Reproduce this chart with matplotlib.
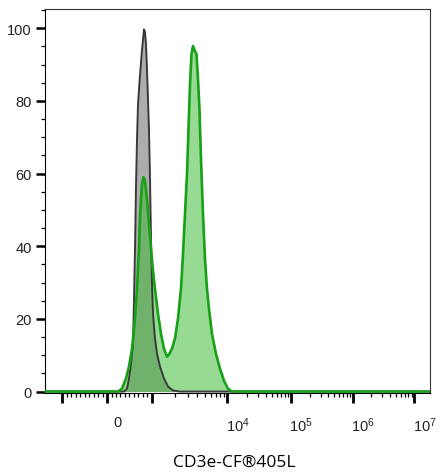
import numpy as np
import matplotlib
matplotlib.use('Agg')
import matplotlib.pyplot as plt
from matplotlib.ticker import FixedLocator, FixedFormatter, MultipleLocator
from matplotlib.transforms import ScaledTranslation

# unstained control (gray), fluorescence intensity vs % of max
gray_x = [-1680, 333, 378, 444, 489, 533, 578, 600, 622, 644, 667, 689, 733, 778,
          822, 844, 867, 889, 911, 933, 956, 978, 1000, 1031, 1096, 1165, 1276,
          1442, 1628, 1897, 2350, 1.79e7]
gray_y = [0, 0, 0, 0.8, 3.6, 7.7, 13, 25.5, 39, 56, 69.5, 79, 87, 94,
          99.7, 99, 95.6, 88.7, 80.5, 72, 58.5, 42, 29.7, 21.4, 14.6, 10.4, 6.9,
          3.6, 1.4, 0.3, 0, 0]

# CD3e-CF405L stained (green)
green_x = [-1680, 244, 333, 422, 489, 556, 622, 667, 711, 733, 756, 778, 811, 844,
           889, 933, 978, 1031, 1096, 1201, 1316, 1442, 1580, 1680, 1840, 2017,
           2210, 2422, 2574, 2736, 2908, 3044, 3187, 3336, 3491, 3711, 3885, 4068,
           4257, 4457, 4737, 5035, 5352, 5689, 6232, 7040, 7957, 8986, 10180,
           11770, 1.79e7]
green_y = [0, 0, 0.8, 3.6, 6.9, 11.8, 20, 28.3, 39.3, 47.5, 53, 57, 59, 58,
           53, 46.2, 39.3, 33.2, 28.3, 21.4, 15.9, 11.8, 9.6, 10.2, 11.8, 14.6,
           20.1, 28.3, 37.9, 48.9, 59.9, 72.3, 84.6, 92.9, 95.1, 93.7, 92.9, 86,
           77.7, 64, 48.9, 36.5, 28.3, 22.8, 15.9, 10.4, 6.3, 3.0, 0.8,
           0, 0]

major_vals = [-1000, 0, 1000, 1e4, 1e5, 1e6, 1e7]
major_labels = ['', '0', '', '$10^4$', '$10^5$', '$10^6$', '$10^7$']
minor_vals = ([-100 * k for k in range(1, 10)] + [100 * k for k in range(1, 10)] +
              [k * 10 ** d for d in range(3, 7) for k in range(2, 10)])

# biexponential-like display axis: linear between -1000 and 1000, log outside
G_ANCH = [-2, -1, 0, 1, 2, 3, 4, 5, 6]
P_ANCH = [-13.5, 62, 107, 152, 227.5, 291, 353, 414.5, 476]


def fwd(v):
    v = np.asarray(v, dtype=float)
    a = np.abs(v)
    g = np.where(a <= 1000, v / 1000.0,
                 np.sign(v) * (1 + np.log10(np.maximum(a, 1000) / 1000.0)))
    return np.interp(g, G_ANCH, P_ANCH)


def inv(p):
    p = np.asarray(p, dtype=float)
    g = np.interp(p, P_ANCH, G_ANCH)
    return np.where(np.abs(g) <= 1, g * 1000.0,
                    np.sign(g) * 1000.0 * 10 ** (np.abs(g) - 1))


plt.rcParams['font.family'] = ['Liberation Sans', 'DejaVu Sans']
plt.rcParams['mathtext.default'] = 'regular'

fig = plt.figure(figsize=(4.43, 4.77), dpi=100)
ax = fig.add_axes([45 / 443, 1 - 394 / 477, 385 / 443, 384 / 477])
ax.set_xscale('function', functions=(fwd, inv))

ax.fill_between(gray_x, gray_y, 0, color='#adadad', lw=0, zorder=1)
ax.fill_between(green_x, green_y, 0, color='#38b830', alpha=0.52, lw=0, zorder=2)
ax.plot(gray_x, gray_y, color='#3a3a3a', lw=1.4, zorder=3)
ax.plot(green_x, green_y, color='#18a018', lw=1.9, zorder=4)

ax.set_xlim(-1680, 1.79e7)
ax.set_ylim(-0.4, 105.3)

ax.xaxis.set_major_locator(FixedLocator(major_vals))
ax.xaxis.set_major_formatter(FixedFormatter(major_labels))
ax.xaxis.set_minor_locator(FixedLocator(minor_vals))
ax.yaxis.set_major_locator(MultipleLocator(20))
ax.yaxis.set_minor_locator(MultipleLocator(5))

ax.tick_params(axis='x', which='major', length=7.5, width=2.0, pad=8.5,
               labelsize=10.5, colors='black')
ax.tick_params(axis='x', which='minor', length=3, width=0.9)
ax.tick_params(axis='y', which='major', length=6.5, width=1.8, pad=3,
               labelsize=10.5)
ax.tick_params(axis='y', which='minor', length=2.8, width=0.9)
ax.tick_params(labelcolor='#222222')

for lab in ax.get_xticklabels():
    lab.set_transform(lab.get_transform() + ScaledTranslation(10 / 100, 0, fig.dpi_scale_trans))

for side in ['top', 'right']:
    ax.spines[side].set_color('#333333')
    ax.spines[side].set_linewidth(0.8)
ax.spines['left'].set_linewidth(0.8)
ax.spines['bottom'].set_linewidth(0.8)

fig.text(234 / 443, 1 - 463 / 477, 'CD3e-CF®405L', ha='center', va='center',
         fontsize=12.5, family=['Open Sans', 'DejaVu Sans'])

fig.savefig('out.png', dpi=100)
